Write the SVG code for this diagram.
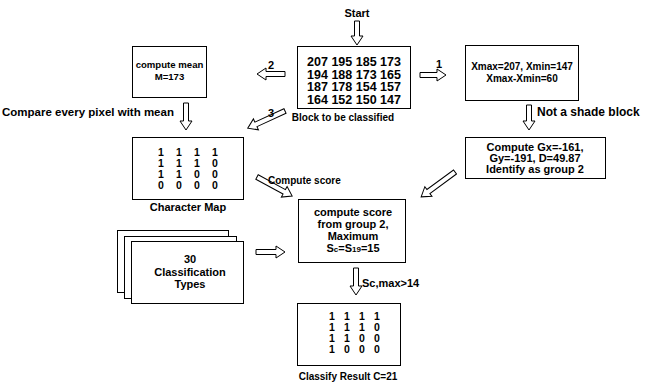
<svg xmlns="http://www.w3.org/2000/svg" width="646" height="382" viewBox="0 0 646 382">
<style>
text{font-family:"Liberation Sans",Arial,sans-serif;font-weight:bold;font-size:11px;fill:#000}
.m{text-anchor:middle}
.num{font-size:12.5px}
.s10{font-size:10px}
.s9{font-size:9.6px}
.dig{font-size:10.5px;text-anchor:middle}
.box{fill:#fff;stroke:#000;stroke-width:1}
.ha{fill:#fff;stroke:#000;stroke-width:1;stroke-linejoin:miter}
.sub{font-size:8px}
</style>
<rect width="646" height="382" fill="#fff"/>
<g id="start"><text class="m" x="357" y="17">Start</text></g>
<g id="block">
<rect class="box" x="297.5" y="46.5" width="113" height="62"/>
<text class="m num" x="354" y="66">207 195 185 173</text>
<text class="m num" x="354" y="78.5">194 188 173 165</text>
<text class="m num" x="354" y="91">187 178 154 157</text>
<text class="m num" x="354" y="103.5">164 152 150 147</text>
<text class="m s10" x="343" y="121">Block to be classified</text>
</g>
<g id="mean">
<rect class="box" x="132.5" y="46.5" width="74" height="51"/>
<text class="m s9" x="169.5" y="68">compute mean</text>
<text class="m s9" x="169.5" y="80">M=173</text>
</g>
<g id="range">
<rect class="box" x="465.5" y="45.5" width="113" height="55"/>
<text class="m s10" x="522" y="70">Xmax=207, Xmin=147</text>
<text class="m s10" x="522" y="82">Xmax-Xmin=60</text>
</g>
<g id="gradient">
<rect class="box" x="465.5" y="137.5" width="140" height="41"/>
<text class="m" x="535" y="151">Compute Gx=-161,</text>
<text class="m" x="535" y="162">Gy=-191, D=49.87</text>
<text class="m" x="535" y="173">Identify as group 2</text>
</g>
<g id="charmap">
<rect class="box" x="132.5" y="137.5" width="111" height="62"/>
<text class="dig" x="161" y="156">1</text><text class="dig" x="179" y="156">1</text><text class="dig" x="197" y="156">1</text><text class="dig" x="215" y="156">1</text>
<text class="dig" x="161" y="167">1</text><text class="dig" x="179" y="167">1</text><text class="dig" x="197" y="167">1</text><text class="dig" x="215" y="167">0</text>
<text class="dig" x="161" y="178">1</text><text class="dig" x="179" y="178">1</text><text class="dig" x="197" y="178">0</text><text class="dig" x="215" y="178">0</text>
<text class="dig" x="161" y="189">0</text><text class="dig" x="179" y="189">0</text><text class="dig" x="197" y="189">0</text><text class="dig" x="215" y="189">0</text>
<text class="m" x="188" y="211">Character Map</text>
</g>
<g id="score">
<rect class="box" x="298.5" y="199.5" width="107" height="63"/>
<text class="m" x="353" y="216">compute score</text>
<text class="m" x="353" y="228">from group 2,</text>
<text class="m" x="353" y="240">Maximum</text>
<text class="m" x="353" y="252">S<tspan class="sub">c</tspan>=S<tspan class="sub">19</tspan>=15</text>
</g>
<g id="types">
<rect class="box" x="117.5" y="230.5" width="111" height="62"/>
<rect class="box" x="124.5" y="236.5" width="112" height="62"/>
<rect class="box" x="131.5" y="241.5" width="112" height="62"/>
<text class="m" x="190" y="263">30</text>
<text class="m" x="190" y="276">Classification</text>
<text class="m" x="190" y="288">Types</text>
</g>
<g id="result">
<rect class="box" x="297.5" y="303.5" width="103" height="62"/>
<text class="dig" x="332" y="320">1</text><text class="dig" x="347" y="320">1</text><text class="dig" x="362" y="320">1</text><text class="dig" x="377" y="320">1</text>
<text class="dig" x="332" y="331">1</text><text class="dig" x="347" y="331">1</text><text class="dig" x="362" y="331">1</text><text class="dig" x="377" y="331">0</text>
<text class="dig" x="332" y="342">1</text><text class="dig" x="347" y="342">1</text><text class="dig" x="362" y="342">0</text><text class="dig" x="377" y="342">0</text>
<text class="dig" x="332" y="353">1</text><text class="dig" x="347" y="353">0</text><text class="dig" x="362" y="353">0</text><text class="dig" x="377" y="353">0</text>
<text class="m s10" x="348" y="380">Classify Result C=21</text>
</g>
<g id="connectors">
<polygon class="ha" transform="translate(357,21) rotate(90)" points="0,-2.5 15,-2.5 15,-6 24,0 15,6 15,2.5 0,2.5"/>
<polygon class="ha" transform="translate(420,75)" points="0,-2.5 17,-2.5 17,-6 26,0 17,6 17,2.5 0,2.5"/>
<text x="436" y="68">1</text>
<polygon class="ha" transform="translate(285,74) rotate(180)" points="0,-2.5 19,-2.5 19,-6 28,0 19,6 19,2.5 0,2.5"/>
<text x="268" y="69">2</text>
<polygon class="ha" transform="translate(529,105) rotate(90)" points="0,-2.5 16,-2.5 16,-6 25,0 16,6 16,2.5 0,2.5"/>
<text x="537" y="116" style="font-size:12px">Not a shade block</text>
<text x="2" y="116" style="font-size:11.5px">Compare every pixel with mean</text>
<polygon class="ha" transform="translate(186,103) rotate(90)" points="0,-2.5 18,-2.5 18,-6 27,0 18,6 18,2.5 0,2.5"/>
<polygon class="ha" transform="translate(285,111) rotate(155.3)" points="0,-2.5 32,-2.5 32,-6 41,0 32,6 32,2.5 0,2.5"/>
<text x="268" y="117">3</text>
<polygon class="ha" transform="translate(257,177) rotate(28.5)" points="0,-2.5 31,-2.5 31,-6 40,0 31,6 31,2.5 0,2.5"/>
<text class="s10" x="268" y="184">Compute score</text>
<polygon class="ha" transform="translate(455,172) rotate(143.7)" points="0,-2.5 33,-2.5 33,-6 42,0 33,6 33,2.5 0,2.5"/>
<polygon class="ha" transform="translate(256,252)" points="0,-2.5 20,-2.5 20,-6 29,0 20,6 20,2.5 0,2.5"/>
<polygon class="ha" transform="translate(356,268) rotate(90)" points="0,-2.5 18,-2.5 18,-6 27,0 18,6 18,2.5 0,2.5"/>
<text x="362" y="287">Sc,max&gt;14</text>
</g>
</svg>
